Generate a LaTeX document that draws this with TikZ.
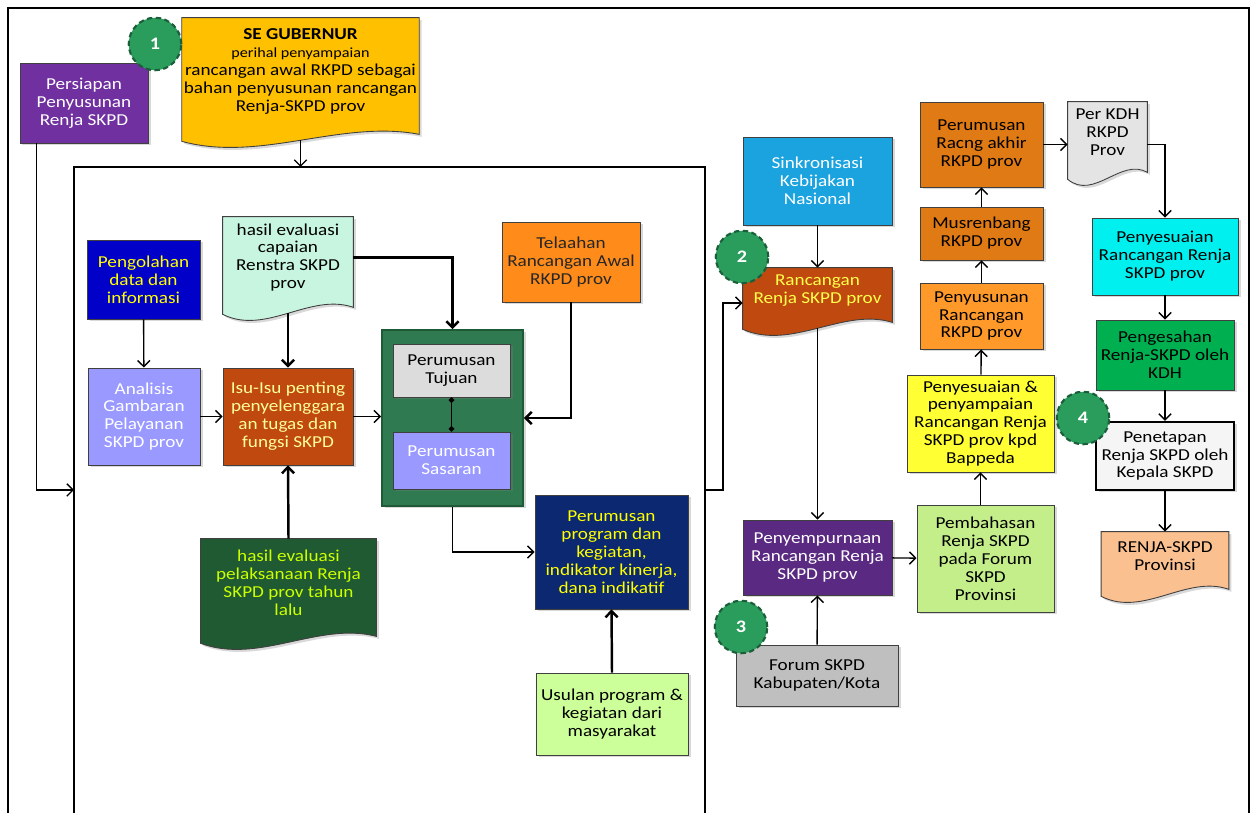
\documentclass[tikz,border=0pt]{standalone}
\usepackage{fontspec}
\setmainfont{Carlito}[FakeStretch=1.15]
\usepackage{tikz}
\usetikzlibrary{arrows.meta,calc,shadows,backgrounds}
\tikzset{>={Straight Barb[length=3.5pt,width=7pt]}}

% dokumen: sisi bawah bergelombang, digambar di belakang node
\newcommand\docshape[2]{%
  \begin{scope}[on background layer]
    \path[draw=black!75, line width=0.5pt, fill=#2,
          drop shadow={shadow xshift=0.05cm, shadow yshift=-0.05cm, opacity=0.3}]
      (#1.north west) -- (#1.north east) -- ([yshift=-0.18cm]#1.south east)
      .. controls ($(#1.south east)!0.33!(#1.south west)+(0,0.12cm)$)
      and ($(#1.south east)!0.67!(#1.south west)+(0,-0.75cm)$)
      .. ([yshift=-0.32cm]#1.south west) -- cycle;
  \end{scope}}

\begin{document}
\begin{tikzpicture}[x=0.02cm, y=-0.02cm,
  box/.style={draw=black!75, line width=0.5pt, align=center, inner sep=1pt,
    font=\fontsize{9.5}{10.2}\selectfont,
    drop shadow={shadow xshift=0.05cm, shadow yshift=-0.05cm, opacity=0.3}},
  doc/.style={align=center, inner sep=1pt, font=\fontsize{9.5}{10.2}\selectfont},
  wh/.style 2 args={minimum width=#1*0.02cm, minimum height=#2*0.02cm},
  num/.style={circle, minimum size=1.05cm, fill=numgreen, draw=numdark,
    line width=1.2pt, densely dashed, text=white,
    font=\bfseries\fontsize{10}{10}\selectfont},
  tebal/.style={->, line width=1.4pt},
  tipis/.style={->, line width=0.8pt}]
\definecolor{persiapan}{HTML}{7030A0}
\definecolor{segold}{HTML}{FFC000}
\definecolor{numgreen}{HTML}{2A9D5C}
\definecolor{numdark}{HTML}{1B5E3A}
\definecolor{olahblue}{HTML}{0000C8}
\definecolor{mint}{HTML}{C8F5E0}
\definecolor{lavender}{HTML}{9999FF}
\definecolor{rust}{HTML}{C0490F}
\definecolor{grncont}{HTML}{2F7A50}
\definecolor{grnborder}{HTML}{1E5A38}
\definecolor{tujgray}{HTML}{DCDCDC}
\definecolor{telorange}{HTML}{FF8C1A}
\definecolor{prognavy}{HTML}{0B2870}
\definecolor{darkgrn}{HTML}{1F5A32}
\definecolor{usulgrn}{HTML}{CCFF99}
\definecolor{sinkblue}{HTML}{1AA3DF}
\definecolor{ungu}{HTML}{5A2A82}
\definecolor{bahasgrn}{HTML}{C4EE8A}
\definecolor{forumgray}{HTML}{BFBFBF}
\definecolor{orgdark}{HTML}{E07A14}
\definecolor{orglight}{HTML}{FF9A2A}
\definecolor{kuning}{HTML}{FFFF33}
\definecolor{kdhgray}{HTML}{E4E4E4}
\definecolor{cyanbox}{HTML}{00F0F0}
\definecolor{sahgrn}{HTML}{00B050}
\definecolor{peach}{HTML}{FAC090}
\definecolor{txtyel}{HTML}{FFFF00}

\useasboundingbox (0,0) rectangle (1251,813);

% Bingkai luar dan dalam
\draw[line width=1pt] (8,813) -- (8,8) -- (1249,8) -- (1249,813);
\coordinate (innerNW) at (74,167);
\coordinate (innerNE) at (705,167);
\coordinate (innerW) at (74,490);
\coordinate (innerE) at (705,490);
\draw[line width=1.6pt] (74,813) -- (innerNW) -- (innerNE) -- (705,813);

% Kiri atas
\node[box, wh={128}{80}, fill=persiapan, text=white] (persiapan) at (84,103)
  {Persiapan\\Penyusunan\\Renja SKPD};
\node[doc, wh={235}{107}] (segub) at (300.5,71.5)
  {\textbf{SE GUBERNUR}\\{\fontsize{8}{8.5}\selectfont perihal penyampaian}\\
   rancangan awal RKPD sebagai\\bahan penyusunan rancangan\\Renja-SKPD prov};
\docshape{segub}{segold}

% Di dalam bingkai
\node[box, wh={113}{79}, fill=olahblue, text=txtyel] (pengolahan) at (143.5,279.5)
  {Pengolahan\\data dan\\informasi};
\node[doc, wh={130}{81}] (capaian) at (288,257.5)
  {hasil evaluasi\\capaian\\Renstra SKPD\\prov};
\docshape{capaian}{mint}
\node[box, wh={112}{97}, fill=lavender, text=white] (analisis) at (144,416.5)
  {Analisis\\Gambaran\\Pelayanan\\SKPD prov};
\node[box, wh={130}{97}, fill=rust, text=txtyel!40] (isu) at (288,416.5)
  {Isu-Isu penting\\penyelenggara\\an tugas dan\\fungsi SKPD};
\node[draw=grnborder, line width=1pt, fill=grncont, wh={141}{176},
  drop shadow={shadow xshift=0.05cm, shadow yshift=-0.05cm, opacity=0.3}] (rumusan) at (452.5,418) {};
\node[box, wh={117}{53}, fill=tujgray] (tujuan) at (451.5,370.5) {Perumusan\\Tujuan};
\node[box, wh={117}{57}, fill=lavender, text=white] (sasaran) at (451.5,460.5) {Perumusan\\Sasaran};
\node[box, wh={138}{80}, fill=telorange, text=black!85] (telaahan) at (571,262)
  {Telaahan\\Rancangan Awal\\RKPD prov};
\node[box, wh={153}{114}, fill=prognavy, text=txtyel] (program) at (611.5,552)
  {Perumusan\\program dan\\kegiatan,\\indikator kinerja,\\dana indikatif};
\node[doc, wh={175}{88}, text=txtyel!80!green] (pelaksanaan) at (288.5,583)
  {hasil evaluasi\\pelaksanaan Renja\\SKPD prov tahun\\lalu};
\docshape{pelaksanaan}{darkgrn}
\node[box, wh={152}{82}, fill=usulgrn] (usulan) at (612,714)
  {Usulan program \&\\kegiatan dari\\masyarakat};

% Kanan
\node[box, wh={149}{88}, fill=sinkblue, text=white] (sinkron) at (817.5,181)
  {Sinkronisasi\\Kebijakan\\Nasional};
\node[doc, wh={149}{45}, text=txtyel!70] (rancangan) at (817.5,290.5)
  {Rancangan\\Renja SKPD prov};
\docshape{rancangan}{rust}
\node[box, wh={149}{75}, fill=ungu, text=white] (penyempurnaan) at (817.5,557.5)
  {Penyempurnaan\\Rancangan Renja\\SKPD prov};
\node[box, wh={162}{61}, fill=forumgray] (forum) at (817,675.5)
  {Forum SKPD\\Kabupaten/Kota};
\node[box, wh={137}{107}, fill=bahasgrn] (pembahasan) at (985.5,558.5)
  {Pembahasan\\Renja SKPD\\pada Forum\\SKPD\\Provinsi};
\node[box, wh={147}{97}, fill=kuning] (kuning) at (980.5,423.5)
  {Penyesuaian \&\\penyampaian\\Rancangan Renja\\SKPD prov kpd\\Bappeda};
\node[box, wh={123}{66}, fill=orglight] (penyusunan) at (981.5,316)
  {Penyusunan\\Rancangan\\RKPD prov};
\node[box, wh={123}{53}, fill=orgdark] (musren) at (981.5,233.5)
  {Musrenbang\\RKPD prov};
\node[box, wh={123}{85}, fill=orgdark] (akhir) at (981.5,144.5)
  {Perumusan\\Racng akhir\\RKPD prov};
\node[doc, wh={79}{61}] (perkdh) at (1107.5,132.5) {Per KDH\\RKPD\\Prov};
\docshape{perkdh}{kdhgray}
\node[box, wh={146}{77}, fill=cyanbox] (penyesuaian) at (1165,256.5)
  {Penyesuaian\\Rancangan Renja\\SKPD prov};
\node[box, wh={138}{70}, fill=sahgrn] (pengesahan) at (1165,355)
  {Pengesahan\\Renja-SKPD oleh\\KDH};
\node[box, wh={138}{68}, fill=black!4, line width=1.3pt, draw=black] (penetapan) at (1165,456)
  {Penetapan\\Renja SKPD oleh\\Kepala SKPD};
\node[doc, wh={127}{48}] (renja) at (1165,556) {RENJA-SKPD\\Provinsi};
\docshape{renja}{peach}

% Panah
\draw[tipis] ([yshift=-0.3cm]segub.south) -- (segub.south |- innerNW);
\draw[tipis] ([xshift=0.34cm]persiapan.south west) |- (innerW);
\foreach \a/\b in {pengolahan/analisis, analisis/isu, sinkron/rancangan,
  forum/penyempurnaan, penyempurnaan/pembahasan, kuning/penyusunan,
  penyusunan/musren, musren/akhir, penyesuaian/pengesahan,
  pengesahan/penetapan, penetapan/renja}
  \draw[tipis] (\a) -- (\b);
\draw[tebal] ([yshift=-0.3cm]capaian.south) -- (isu.north);
\draw[tebal] (pelaksanaan.north) -- (isu.south);
\draw[tebal] (capaian.east) -| (rumusan.north);
\draw[tebal] (telaahan.south) |- (rumusan.east);
\draw[tebal] (usulan.north) -- (program.south);
\draw[tipis] (isu.east) -- (isu.east -| rumusan.west);
\draw[tipis] (rumusan.south) |- (program.west);
\draw[{Circle[length=3pt]}-{Circle[length=3pt]}, line width=1pt] (tujuan.south) -- (sasaran.north);
\draw[tipis] (innerE) -- ++(18,0) |- ([yshift=-0.25cm]rancangan.west);
\draw[tipis] ([yshift=-0.3cm]rancangan.south) -- (penyempurnaan.north);
\draw[tipis] (kuning.south |- pembahasan.north) -- (kuning.south);
\draw[tipis] (akhir.east) -- (akhir.east -| perkdh.west);
\draw[tipis] (perkdh.east |- akhir.east) -| (penyesuaian.north);

% Nomor tahap
\foreach \n/\x/\y in {1/155/44, 2/742/257, 3/741/627, 4/1083/418}
  \node[num] (num\n) at (\x,\y) {\n};

\end{tikzpicture}
\end{document}
